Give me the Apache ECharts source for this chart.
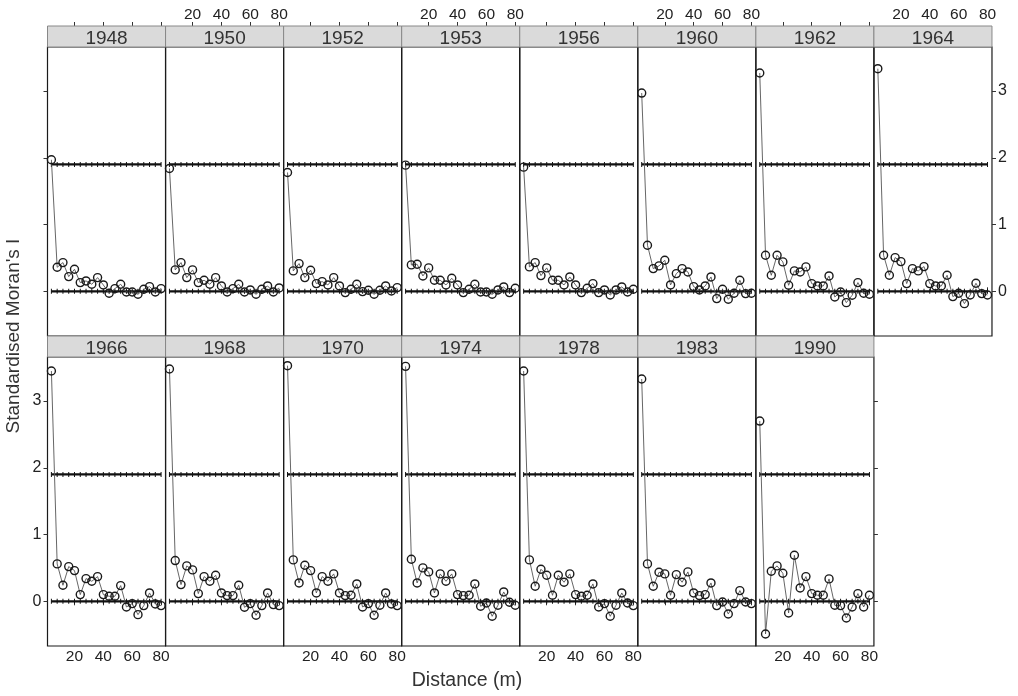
<!DOCTYPE html>
<html>
<head>
<meta charset="utf-8">
<script src="https://cdn.jsdelivr.net/npm/echarts@6/dist/echarts.min.js"></script>
<style>
  html, body { margin: 0; background: #fff; }
  #chart { width: 1018px; height: 696px; }
</style>
</head>
<body>
<div id="chart"></div>
<script>
// distance classes (m)
const distances = [4, 8, 12, 16, 20, 24, 28, 32, 36, 40, 44, 48, 52, 56, 60, 64, 68, 72, 76, 80];
const years = ['1948', '1950', '1952', '1953', '1956', '1960', '1962', '1964',
               '1966', '1968', '1970', '1974', '1978', '1983', '1990'];

// standardised Moran's I
const moran1948 = [1.97, 0.36, 0.43, 0.22, 0.33, 0.13, 0.155, 0.105, 0.205, 0.095, -0.03, 0.04, 0.105, -0.01, -0.01, -0.045, 0.03, 0.07, -0.01, 0.04];
const moran1950 = [1.84, 0.32, 0.43, 0.205, 0.32, 0.13, 0.165, 0.105, 0.205, 0.08, -0.01, 0.04, 0.105, -0.01, 0.02, -0.045, 0.03, 0.08, -0.01, 0.05];
const moran1952 = [1.78, 0.305, 0.415, 0.205, 0.315, 0.115, 0.145, 0.095, 0.205, 0.08, -0.02, 0.03, 0.105, -0.005, 0.015, -0.045, 0.015, 0.08, 0.005, 0.055];
const moran1953 = [1.89, 0.395, 0.405, 0.23, 0.35, 0.165, 0.165, 0.095, 0.195, 0.095, -0.02, 0.03, 0.105, -0.01, -0.01, -0.045, 0.02, 0.065, -0.02, 0.045];
const moran1956 = [1.86, 0.365, 0.43, 0.235, 0.35, 0.165, 0.165, 0.095, 0.215, 0.095, -0.02, 0.045, 0.115, -0.02, 0.02, -0.055, 0.02, 0.065, -0.01, 0.03];
const moran1960 = [2.97, 0.69, 0.34, 0.38, 0.465, 0.095, 0.265, 0.34, 0.29, 0.07, 0.02, 0.08, 0.215, -0.11, 0.03, -0.12, -0.03, 0.165, -0.035, -0.03];
const moran1962 = [3.27, 0.54, 0.24, 0.54, 0.44, 0.09, 0.305, 0.29, 0.365, 0.115, 0.08, 0.08, 0.23, -0.085, -0.01, -0.17, -0.06, 0.13, -0.03, -0.045];
const moran1964 = [3.335, 0.54, 0.24, 0.505, 0.445, 0.115, 0.34, 0.305, 0.37, 0.115, 0.08, 0.08, 0.24, -0.08, -0.03, -0.185, -0.055, 0.12, -0.035, -0.055];
const moran1966 = [3.45, 0.56, 0.24, 0.52, 0.46, 0.10, 0.34, 0.30, 0.37, 0.10, 0.075, 0.075, 0.235, -0.085, -0.035, -0.2, -0.065, 0.125, -0.04, -0.065];
const moran1968 = [3.48, 0.61, 0.25, 0.53, 0.47, 0.115, 0.37, 0.30, 0.39, 0.125, 0.085, 0.085, 0.24, -0.09, -0.035, -0.21, -0.065, 0.125, -0.05, -0.065];
const moran1970 = [3.53, 0.62, 0.275, 0.54, 0.46, 0.125, 0.37, 0.30, 0.41, 0.125, 0.085, 0.09, 0.26, -0.085, -0.035, -0.21, -0.06, 0.125, -0.04, -0.065];
const moran1974 = [3.52, 0.63, 0.275, 0.50, 0.44, 0.125, 0.41, 0.30, 0.41, 0.10, 0.085, 0.09, 0.26, -0.075, -0.025, -0.225, -0.06, 0.14, -0.015, -0.06];
const moran1978 = [3.45, 0.62, 0.225, 0.48, 0.39, 0.09, 0.39, 0.285, 0.41, 0.10, 0.075, 0.09, 0.26, -0.085, -0.035, -0.225, -0.06, 0.125, -0.025, -0.065];
const moran1983 = [3.33, 0.56, 0.225, 0.435, 0.41, 0.09, 0.40, 0.285, 0.44, 0.125, 0.085, 0.10, 0.275, -0.065, -0.01, -0.19, -0.035, 0.16, -0.01, -0.035];
const moran1990 = [2.70, -0.49, 0.45, 0.53, 0.42, -0.175, 0.69, 0.20, 0.37, 0.115, 0.09, 0.09, 0.335, -0.06, -0.065, -0.25, -0.085, 0.115, -0.085, 0.09];

const moranByYear = [moran1948, moran1950, moran1952, moran1953, moran1956, moran1960, moran1962, moran1964,
                     moran1966, moran1968, moran1970, moran1974, moran1978, moran1983, moran1990];

// reference lines (0 and significance level)
const refLevels = [0, 1.9];
const xTicks = [20, 40, 60, 80];
const yTicks = [0, 1, 2, 3];

const X_MIN = 1.3, X_MAX = 83.1;
const Y_MIN = -0.67, Y_MAX = 3.66;

const FONT = '"Liberation Sans", Arial, sans-serif';
const LEFT0 = 47.5, PANEL_W = 118.06, STRIP_H = 21;
const rows = [
  { strip: 26, top: 47, bottom: 336 },
  { strip: 336, top: 357, bottom: 646 }
];

function xAxisCfg(gi, position, show, showLabel, offset) {
  return {
    gridIndex: gi, type: 'value', position: position, offset: offset || 0,
    show: show, min: X_MIN, max: X_MAX,
    axisLine: { show: false }, splitLine: { show: false },
    axisTick: { show: true, customValues: xTicks, length: 4, lineStyle: { color: '#333' } },
    axisLabel: { show: showLabel, customValues: xTicks, fontSize: 15.5, color: '#222', fontFamily: FONT, margin: 3 }
  };
}

function yAxisCfg(gi, position, show, showLabel) {
  return {
    gridIndex: gi, type: 'value', position: position,
    show: show, min: Y_MIN, max: Y_MAX,
    axisLine: { show: false }, splitLine: { show: false },
    axisTick: { show: true, customValues: yTicks, length: 4, lineStyle: { color: '#333' } },
    axisLabel: { show: showLabel, customValues: yTicks, fontSize: 16, color: '#222', fontFamily: FONT, margin: 6 }
  };
}

const grids = [], xAxes = [], yAxes = [], series = [], graphics = [];

years.forEach((yr, i) => {
  const row = i < 8 ? 0 : 1;
  const col = row === 0 ? i : i - 8;
  const r = rows[row];
  const left = LEFT0 + col * PANEL_W;

  grids.push({
    left: left, top: r.top, width: PANEL_W, height: r.bottom - r.top,
    show: true, borderColor: '#1a1a1a', borderWidth: 1.2, backgroundColor: 'transparent'
  });

  // main axes used by the series
  const xi = xAxes.length;
  xAxes.push(xAxisCfg(i, 'bottom', row === 1, row === 1 && col % 2 === 0));
  const yi = yAxes.length;
  yAxes.push(yAxisCfg(i, 'left', col === 0, row === 1));

  // top axis above the strip (first row only)
  if (row === 0) {
    xAxes.push(xAxisCfg(i, 'top', true, col % 2 === 1, STRIP_H));
  }
  // right axis on the last panel of each row
  if ((row === 0 && col === 7) || (row === 1 && col === 6)) {
    yAxes.push(yAxisCfg(i, 'right', true, row === 0));
  }

  refLevels.forEach(lvl => {
    series.push({
      type: 'line', xAxisIndex: xi, yAxisIndex: yi, silent: true, z: 2,
      data: distances.map(d => [d, lvl]),
      symbol: 'rect', symbolSize: [1, 5],
      itemStyle: { color: '#111' },
      lineStyle: { color: '#111', width: 2.2 }
    });
  });

  series.push({
    type: 'line', xAxisIndex: xi, yAxisIndex: yi, z: 3,
    data: distances.map((d, k) => [d, moranByYear[i][k]]),
    symbol: 'circle', symbolSize: 8, showSymbol: true,
    itemStyle: { color: 'rgba(0,0,0,0)', borderColor: '#1a1a1a', borderWidth: 1.4 },
    lineStyle: { color: '#555', width: 0.9 }
  });

  // strip with year
  graphics.push({
    type: 'rect', z: 10,
    shape: { x: left, y: r.strip, width: PANEL_W, height: STRIP_H },
    style: { fill: '#dadada', stroke: '#888', lineWidth: 1 }
  });
  graphics.push({
    type: 'text', z: 11,
    x: left + PANEL_W / 2, y: r.strip + STRIP_H / 2 + 2,
    style: {
      text: yr, font: '19px ' + FONT, fill: '#333',
      align: 'center', verticalAlign: 'middle',
      textAlign: 'center', textVerticalAlign: 'middle'
    }
  });
});

graphics.push({
  type: 'text', x: 14, y: 336, rotation: Math.PI / 2,
  style: {
    text: "Standardised Moran's I", font: '19px ' + FONT, fill: '#333',
    align: 'center', verticalAlign: 'middle', textAlign: 'center', textVerticalAlign: 'middle'
  }
});
graphics.push({
  type: 'text', x: 467, y: 681,
  style: {
    text: 'Distance (m)', font: '19.5px ' + FONT, fill: '#333',
    align: 'center', verticalAlign: 'middle', textAlign: 'center', textVerticalAlign: 'middle'
  }
});

const chart = echarts.init(document.getElementById('chart'));
chart.setOption({
  animation: false,
  backgroundColor: '#fff',
  grid: grids,
  xAxis: xAxes,
  yAxis: yAxes,
  series: series,
  graphic: graphics
});
</script>
</body>
</html>
